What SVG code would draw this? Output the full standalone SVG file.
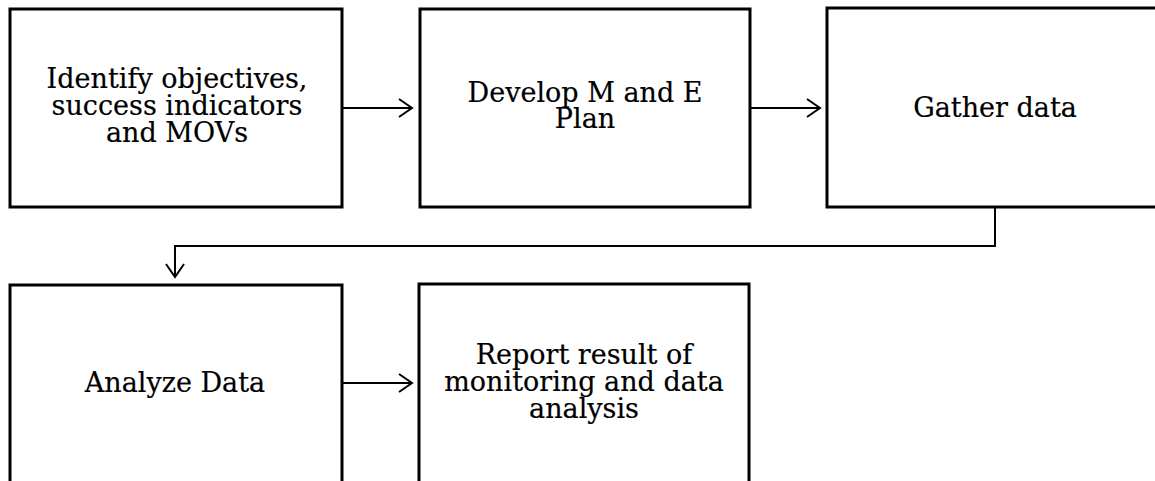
<svg xmlns="http://www.w3.org/2000/svg" width="1155" height="481" viewBox="0 0 1155 481">
  <style>
    .box { fill: #fff; stroke: #000; stroke-width: 3; }
    .lbl { font-family: "DejaVu Serif", "Liberation Serif", serif; font-size: 27px; fill: #000; text-anchor: middle; stroke: #000; stroke-width: 0.2; }
    .conn { fill: none; stroke: #000; stroke-width: 2; }
  </style>
  <defs>
    <marker id="arr" viewBox="-14 -10 16 20" refX="0" refY="0" markerWidth="16" markerHeight="20" markerUnits="userSpaceOnUse" orient="auto">
      <path d="M-13,-9 L0,0 L-13,9" fill="none" stroke="#000" stroke-width="2"/>
    </marker>
  </defs>
  <rect width="1155" height="481" fill="#fff"/>

  <g id="node-identify">
    <rect class="box" x="10" y="9" width="332" height="198"/>
    <text class="lbl" x="177" y="88">Identify objectives,</text>
    <text class="lbl" x="177" y="115">success indicators</text>
    <text class="lbl" x="177" y="142">and MOVs</text>
  </g>

  <g id="node-develop">
    <rect class="box" x="420" y="9" width="330" height="198"/>
    <text class="lbl" x="585" y="102">Develop M and E</text>
    <text class="lbl" x="585" y="128">Plan</text>
  </g>

  <g id="node-gather">
    <rect class="box" x="827" y="8" width="340" height="199"/>
    <text class="lbl" x="995" y="117">Gather data</text>
  </g>

  <g id="node-analyze">
    <rect class="box" x="10" y="285" width="332" height="210"/>
    <text class="lbl" x="175" y="392">Analyze Data</text>
  </g>

  <g id="node-report">
    <rect class="box" x="419" y="284" width="330" height="210"/>
    <text class="lbl" x="584" y="364">Report result of</text>
    <text class="lbl" x="584" y="391">monitoring and data</text>
    <text class="lbl" x="584" y="418">analysis</text>
  </g>

  <g id="connectors">
    <line class="conn" x1="343" y1="108" x2="412" y2="108" marker-end="url(#arr)"/>
    <line class="conn" x1="751" y1="108" x2="820" y2="108" marker-end="url(#arr)"/>
    <polyline class="conn" points="995,208 995,246 175,246 175,277" marker-end="url(#arr)"/>
    <line class="conn" x1="343" y1="383" x2="412" y2="383" marker-end="url(#arr)"/>
  </g>
</svg>
